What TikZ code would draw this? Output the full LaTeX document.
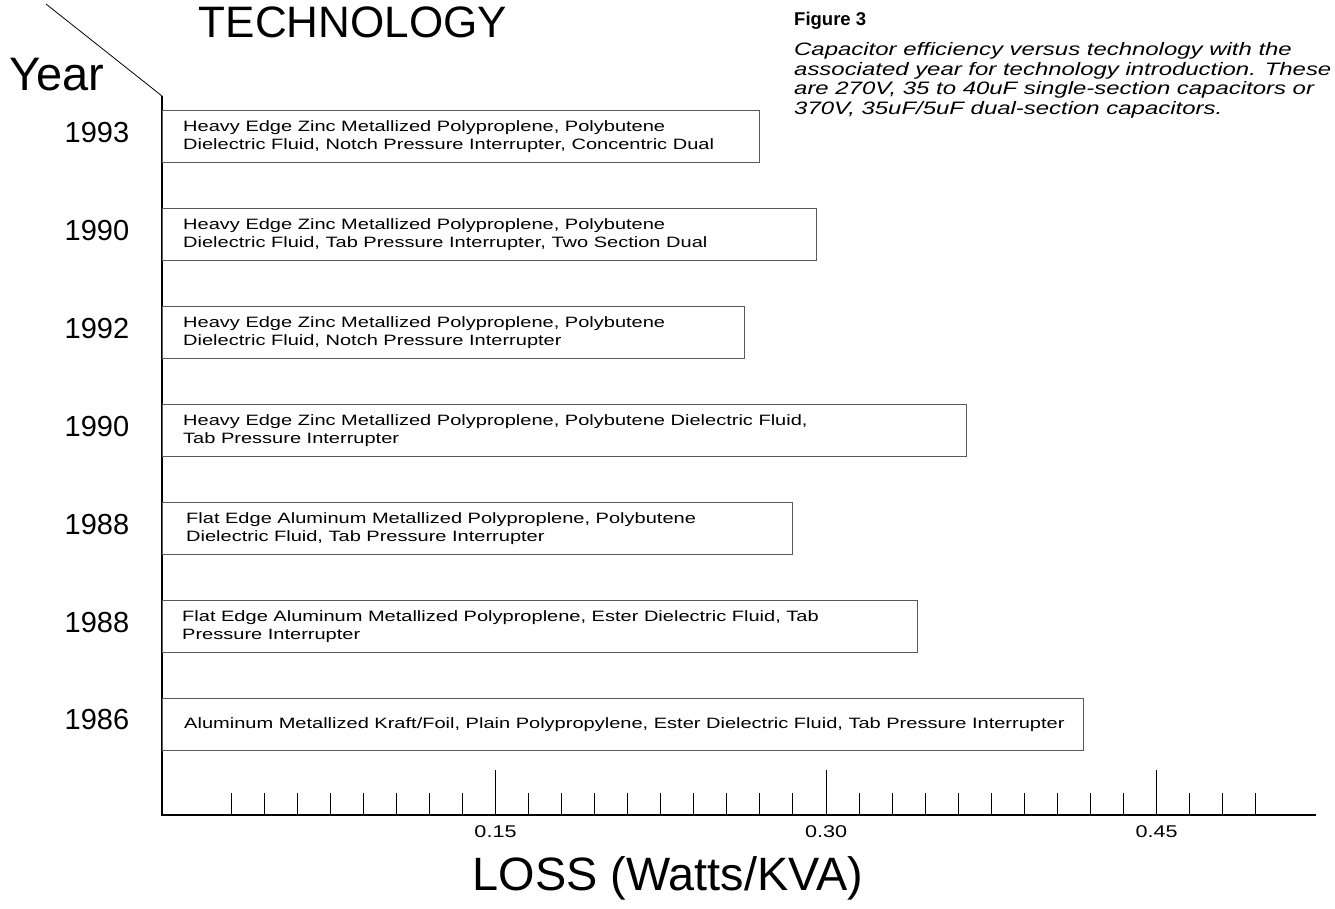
\documentclass[tikz,border=0pt]{standalone}
\usepackage{fontspec}
\setmainfont{Liberation Sans}
\newfontfamily\widefont[FakeStretch=1.335]{Liberation Sans}
\newfontfamily\captionfont[FakeStretch=1.33]{Liberation Sans}
\newfontfamily\tickfont[FakeStretch=1.27]{Liberation Sans}
\begin{document}
\begin{tikzpicture}[x=1pt, y=-1pt, every node/.style={inner sep=0pt}]

    \tikzset{
      techbar/.style={draw=black!65, line width=1.3pt, rectangle, anchor=north west, minimum height=52pt},
      techtext/.style={anchor=west, align=left, font=\widefont\fontsize{15}{17.5}\selectfont},
      yearlabel/.style={font=\fontsize{29}{29}\selectfont},
      ticklabel/.style={font=\tickfont\fontsize{17}{17}\selectfont}
    }

    \useasboundingbox (0,0) rectangle (1335,909);

    % Draw axes
    \coordinate (diag) at (46,4);
    \coordinate (corner) at (162,96);
    \coordinate (origin) at (162,815);
    \coordinate (xend) at (1316,815);
    \draw[line width=0.8pt] (diag) -- (corner);
    \draw[line width=1.2pt] (corner) -- (origin) -- (xend);

    % Titles
    \node[font=\fontsize{44}{44}\selectfont] (title) at (353,22) {TECHNOLOGY};
    \node[font=\fontsize{47}{47}\selectfont] (yearaxis) at (57,75) {Year};
    \node[font=\fontsize{46.8}{46.8}\selectfont] (lossaxis) at (668,878) {LOSS (Watts/KVA)};

    % Caption
    \node[anchor=north west, font=\bfseries\fontsize{18.5}{18.5}\selectfont] (figlabel) at (794,12) {Figure 3};
    \node[anchor=north west, align=left, font=\captionfont\itshape\fontsize{18}{19.8}\selectfont] (figcaption) at (794,42)
      {Capacitor efficiency versus technology with the\\
       associated year for technology introduction. These\\
       are 270V, 35 to 40uF single-section capacitors or\\
       370V, 35uF/5uF dual-section capacitors.};

    % Bars: one per technology, length = loss
    % 1993
    \node[techbar, minimum width=597pt] (bar93) at (162,110) {};
    \node[techtext] (tech93) at ([xshift=21pt]bar93.west) {Heavy Edge Zinc Metallized Polyproplene, Polybutene\\Dielectric Fluid, Notch Pressure Interrupter, Concentric Dual};
    \node[yearlabel] (year93) at (97,133) {1993};

    % 1990 two section
    \node[techbar, minimum width=654pt] (bar90a) at (162,208) {};
    \node[techtext] (tech90a) at ([xshift=21pt]bar90a.west) {Heavy Edge Zinc Metallized Polyproplene, Polybutene\\Dielectric Fluid, Tab Pressure Interrupter, Two Section Dual};
    \node[yearlabel] (year90a) at (97,231) {1990};

    % 1992
    \node[techbar, minimum width=582pt] (bar92) at (162,306) {};
    \node[techtext] (tech92) at ([xshift=21pt]bar92.west) {Heavy Edge Zinc Metallized Polyproplene, Polybutene\\Dielectric Fluid, Notch Pressure Interrupter};
    \node[yearlabel] (year92) at (97,329) {1992};

    % 1990 single section
    \node[techbar, minimum width=804pt] (bar90b) at (162,404) {};
    \node[techtext] (tech90b) at ([xshift=21pt]bar90b.west) {Heavy Edge Zinc Metallized Polyproplene, Polybutene Dielectric Fluid,\\Tab Pressure Interrupter};
    \node[yearlabel] (year90b) at (97,427) {1990};

    % 1988 polybutene
    \node[techbar, minimum width=630pt] (bar88a) at (162,502) {};
    \node[techtext] (tech88a) at ([xshift=24pt]bar88a.west) {Flat Edge Aluminum Metallized Polyproplene, Polybutene\\Dielectric Fluid, Tab Pressure Interrupter};
    \node[yearlabel] (year88a) at (97,525) {1988};

    % 1988 ester
    \node[techbar, minimum width=755pt] (bar88b) at (162,600) {};
    \node[techtext] (tech88b) at ([xshift=20pt]bar88b.west) {Flat Edge Aluminum Metallized Polyproplene, Ester Dielectric Fluid, Tab\\Pressure Interrupter};
    \node[yearlabel] (year88b) at (97,623) {1988};

    % 1986
    \node[techbar, minimum width=921pt] (bar86) at (162,698) {};
    \node[techtext] (tech86) at ([xshift=22pt]bar86.west) {Aluminum Metallized Kraft/Foil, Plain Polypropylene, Ester Dielectric Fluid, Tab Pressure Interrupter};
    \node[yearlabel] (year86) at (97,720) {1986};

    % Ticks every 0.015, long ones every 0.15
    \foreach \i in {2,...,33} {
      \pgfmathsetmacro{\tx}{165+\i*33.05}
      \ifnum\i=10 \draw[line width=1pt] (\tx,770) -- (\tx,815);
      \else\ifnum\i=20 \draw[line width=1pt] (\tx,770) -- (\tx,815);
      \else\ifnum\i=30 \draw[line width=1pt] (\tx,770) -- (\tx,815);
      \else \draw[line width=1pt] (\tx,793) -- (\tx,815);
      \fi\fi\fi
    }
    \node[ticklabel] (tick15) at (495.5,832) {0.15};
    \node[ticklabel] (tick30) at (826,832) {0.30};
    \node[ticklabel] (tick45) at (1156.5,832) {0.45};

\end{tikzpicture}
\end{document}
